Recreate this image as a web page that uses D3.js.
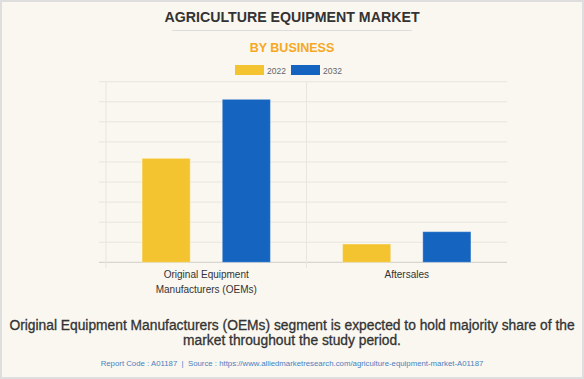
<!DOCTYPE html>
<html>
<head>
<meta charset="utf-8">
<script src="https://cdn.jsdelivr.net/npm/d3@7"></script>
<style>
  html, body { margin: 0; padding: 0; background: #f9f7f0; }
  svg { display: block; font-family: "Liberation Sans", Arial, sans-serif; }
</style>
</head>
<body>
<svg id="chart"></svg>
<script>
// Data (units: one gridline step = 20)
const categories = ["Original Equipment Manufacturers (OEMs)", "Aftersales"];
const categoryLines = [["Original Equipment", "Manufacturers (OEMs)"], ["Aftersales"]];
const years = ["2022", "2032"];
const values2022 = [103.6, 18.2];
const values2032 = [162.4, 30.5];
const yTicks = [0, 20, 40, 60, 80, 100, 120, 140, 160, 180];
const colors = ["#f4c430", "#1565c0"];

const W = 584, H = 379;
const svg = d3.select("#chart").attr("width", W).attr("height", H);

// background + border
svg.append("rect")
    .attr("x", 1).attr("y", 1)
    .attr("width", W - 2).attr("height", H - 2)
    .attr("fill", "#f9f7f0")
    .attr("stroke", "#dedede")
    .attr("stroke-width", 2);

// title
svg.append("text")
    .attr("x", W / 2).attr("y", 22)
    .attr("text-anchor", "middle")
    .attr("font-size", "14.2px")
    .attr("font-weight", "bold")
    .attr("fill", "#333")
    .text("AGRICULTURE EQUIPMENT MARKET");

svg.append("line")
    .attr("x1", 172).attr("x2", 412)
    .attr("y1", 30.5).attr("y2", 30.5)
    .attr("stroke", "#dcdcdc");

svg.append("text")
    .attr("x", W / 2).attr("y", 52)
    .attr("text-anchor", "middle")
    .attr("font-size", "12.5px")
    .attr("font-weight", "bold")
    .attr("fill", "#f7a823")
    .text("BY BUSINESS");

// legend
const legend = svg.append("g").selectAll("g")
    .data(years)
    .join("g")
    .attr("transform", (d, i) => `translate(${235 + i * 56},65)`);

legend.append("rect")
    .attr("width", 29).attr("height", 10)
    .attr("fill", (d, i) => colors[i]);

legend.append("text")
    .attr("x", 32).attr("y", 8.5)
    .attr("font-size", "8.5px")
    .attr("fill", "#666")
    .text(d => d);

// plot
const plot = { left: 106, right: 507, top: 81.7, bottom: 262.3 };

const x0 = d3.scaleBand()
    .domain(categories)
    .range([plot.left, plot.right]);

const x1 = d3.scaleBand()
    .domain(years)
    .range([0, x0.bandwidth()])
    .paddingInner(0.4)
    .paddingOuter(0.45);

const y = d3.scaleLinear()
    .domain([0, 180])
    .range([plot.bottom, plot.top]);

// gridlines
svg.append("g").selectAll("line")
    .data(yTicks)
    .join("line")
    .attr("x1", 99).attr("x2", plot.right)
    .attr("y1", d => y(d)).attr("y2", d => y(d))
    .attr("stroke", d => d === 0 ? "#cfcdc7" : "#e8e5de")
    .attr("stroke-width", 1);

// vertical lines: axis + category divider
svg.append("g").selectAll("line")
    .data([plot.left, x0(categories[1])])
    .join("line")
    .attr("x1", d => d).attr("x2", d => d)
    .attr("y1", plot.top).attr("y2", 268)
    .attr("stroke", "#e8e5de");

// bars
const rows = categories.map((c, i) => ({ cat: c, vals: [values2022[i], values2032[i]] }));

const groups = svg.append("g").selectAll("g")
    .data(rows)
    .join("g")
    .attr("transform", d => `translate(${x0(d.cat)},0)`);

groups.selectAll("rect")
    .data(d => d.vals.map((v, i) => ({ year: years[i], value: v, i })))
    .join("rect")
    .attr("x", d => x1(d.year))
    .attr("width", x1.bandwidth())
    .attr("y", d => y(d.value))
    .attr("height", d => y(0) - y(d.value))
    .attr("fill", d => colors[d.i])
    .attr("stroke", "rgba(255,255,255,0.3)")
    .attr("stroke-width", 1);

// category labels
const labels = svg.append("g").selectAll("text")
    .data(categories)
    .join("text")
    .attr("x", d => x0(d) + x0.bandwidth() / 2)
    .attr("y", 278)
    .attr("text-anchor", "middle")
    .attr("font-size", "10px")
    .attr("fill", "#333");

labels.selectAll("tspan")
    .data((d, i) => categoryLines[i])
    .join("tspan")
    .attr("x", function() { return this.parentNode.getAttribute("x"); })
    .attr("dy", (d, i) => i === 0 ? 0 : 14.5)
    .text(d => d);

// caption
const caption = [
    "Original Equipment Manufacturers (OEMs) segment is expected to hold majority share of the",
    "market throughout the study period."
];
svg.append("g").selectAll("text")
    .data(caption)
    .join("text")
    .attr("x", W / 2)
    .attr("y", (d, i) => 329.5 + i * 15.5)
    .attr("text-anchor", "middle")
    .attr("font-size", "13.8px")
    .attr("fill", "#333")
    .attr("stroke", "#333")
    .attr("stroke-width", 0.3)
    .text(d => d);

svg.append("text")
    .attr("x", W / 2).attr("y", 366)
    .attr("text-anchor", "middle")
    .attr("font-size", "7.8px")
    .attr("fill", "#4a7fc1")
    .style("white-space", "pre")
    .text("Report Code : A01187  |  Source : https://www.alliedmarketresearch.com/agriculture-equipment-market-A01187");
</script>
</body>
</html>
